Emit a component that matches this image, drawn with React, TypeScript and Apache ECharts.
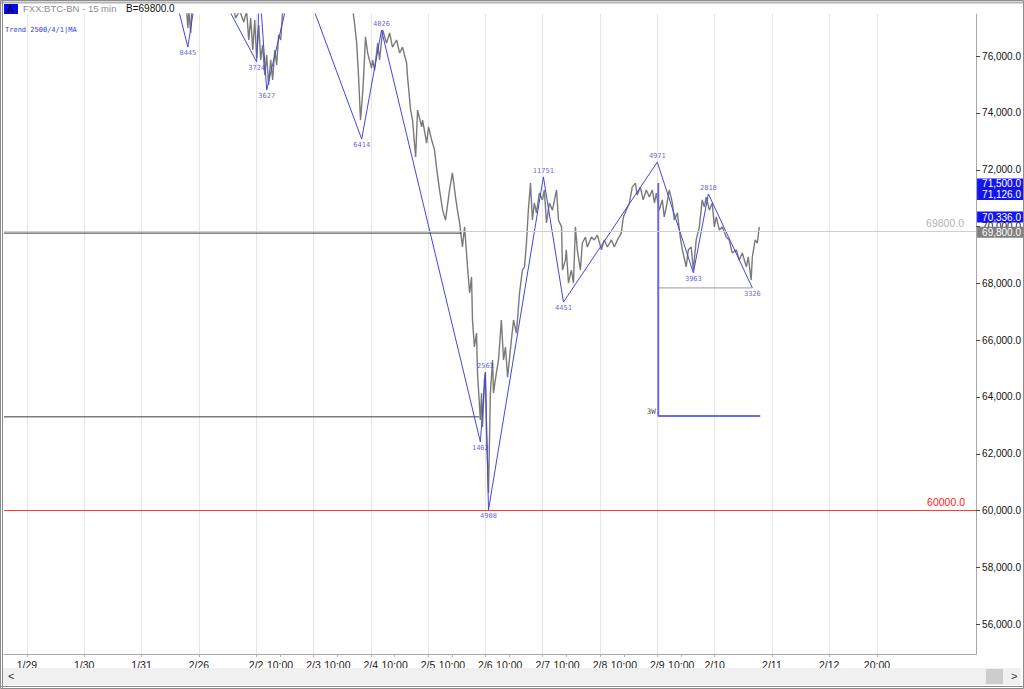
import React, { useEffect, useRef } from 'react';
import * as echarts from 'echarts';

// ---- axes ----
const xMin = -9.6; // hours from 1/29 00:00
const xMax = 397.5;
const yMin = 54950;
const yMax = 77485;
const xLabelHours = [0, 24, 48, 72, 96, 106, 120, 130, 144, 154, 168, 178, 192, 202, 216, 226, 240, 250, 264, 274, 288, 312, 336, 356];
const xLabelTexts = ['1/29', '1/30', '1/31', '2/26', '2/2', '10:00', '2/3', '10:00', '2/4', '10:00', '2/5', '10:00', '2/6', '10:00', '2/7', '10:00', '2/8', '10:00', '2/9', '10:00', '2/10', '2/11', '2/12', '20:00'];
const xGridHours = [0, 24, 48, 72, 96, 120, 144, 168, 192, 216, 240, 264, 288, 312, 336, 356];
const yTickValues = [56000, 58000, 60000, 62000, 64000, 66000, 68000, 70000, 72000, 74000, 76000];

// ---- 15-min price trace (highs/lows) ----
const priceHours = [
  66.5, 67.4, 67.8, 68.6, 69.0, 69.9,
  85.8, 87.4, 89.1, 90.8, 92.0, 92.9, 93.7, 94.6, 95.4, 96.2, 97.1, 97.9, 98.7, 99.6, 100.4, 101.2, 102.1, 102.9, 103.8, 104.6, 105.4, 106.3, 107.1, 107.9,
  136.4, 136.8, 137.2, 138.1, 138.9, 139.7, 140.6, 141.0, 141.8, 142.7, 144.3, 144.8, 145.6, 146.9, 147.7, 149.0, 150.6, 151.9, 153.1, 154.8, 156.1, 157.3, 159.0, 159.4,
  160.7, 161.5, 162.8, 163.6, 165.3, 165.7, 167.4, 168.2, 169.5, 170.7, 171.5, 172.8, 174.1, 175.3, 177.0, 178.2, 179.5, 180.3, 181.2, 182.4, 183.3, 184.1, 184.5,
  185.4, 186.2, 186.6, 187.4, 188.3, 188.7, 189.9, 190.4, 190.8, 191.6, 192.0, 192.5, 193.3, 194.1, 195.0, 195.4, 196.6, 197.5, 198.7, 199.6, 200.4, 201.3,
  202.9, 203.8, 205.0, 206.3, 207.5, 208.4, 209.2, 210.0, 210.9, 211.7, 212.5, 213.4, 214.6, 215.9, 216.7, 217.6, 218.8, 220.1, 221.8, 222.6, 223.9, 224.3,
  225.5, 225.9, 226.8, 228.0, 228.9, 229.7, 230.5, 231.8, 232.6, 233.9, 234.7, 236.4, 237.6, 238.9, 240.6, 241.8, 243.1, 244.8, 246.0, 247.3, 248.9, 249.8,
  251.0, 252.3, 253.5, 254.8, 255.6, 256.9, 258.1, 259.4, 260.7, 261.9, 262.8, 263.6, 264.8, 266.1, 266.9, 267.8, 269.0, 270.3, 271.1, 272.4, 273.6, 274.5,
  276.1, 277.0, 278.2, 279.1, 280.3, 281.6, 282.8, 283.7, 284.5, 285.8, 287.0, 287.9, 288.7, 290.0, 291.2, 292.9, 294.1, 295.4, 297.1, 298.3, 299.6, 301.3,
  302.1, 303.3, 303.8, 305.0, 305.9, 306.7,
];
const priceValues = [
  78000, 76990, 77600, 76820, 77600, 78000,
  78000, 77340, 77600, 77200, 77600, 76570, 77340, 76220, 77270, 75940, 77100, 75870, 76390, 75340, 76040, 74990, 75870, 75160, 76220, 75690, 76750, 76570, 77600, 78000,
  78000, 77410, 77170, 76460, 75270, 73750, 74700, 75270, 76680, 76110, 75580, 75870, 75510, 76460, 75870, 76920, 76460, 76820, 76320, 76570, 76110, 76320, 75760, 75270,
  74100, 73750, 72450, 74100, 73510, 73750, 72940, 73510, 73050, 72700, 72100, 71290, 70580, 70230, 71290, 71890, 71040, 70580, 70130, 69280, 69990, 69070, 68580,
  67660, 68220, 66710, 65760, 66250, 64850, 63190, 64140, 62940, 64600, 64850, 62730, 60620, 64140, 65300, 64140, 64850, 65300, 66710, 65300, 65760, 64700,
  66010, 66710, 66250, 67660, 68470, 68580, 69420, 70580, 71530, 70230, 70830, 70480, 71180, 70940, 71290, 70130, 70830, 70580, 71290, 70230, 69990, 68470,
  68820, 69180, 68010, 68470, 68010, 69990, 69180, 68470, 69420, 69630, 69280, 69630, 69530, 69700, 69180, 69530, 69280, 69530, 69280, 69530, 69770, 70340,
  70580, 70830, 71390, 71530, 71110, 71390, 70940, 71290, 71040, 71290, 70830, 71180, 70580, 70940, 70340, 70690, 71290, 70830, 70230, 70480, 69630, 69180,
  68580, 69180, 69280, 68470, 69530, 69990, 70940, 70690, 71040, 70580, 70830, 69990, 70340, 69880, 69990, 69630, 69530, 69070, 69180, 68820, 69070, 68580,
  68930, 68120, 68930, 69530, 69420, 69990,
];

// ---- zigzag trend (Trend 2500/4/1) ----
const zigHours = [63.0, 67.4, 73.1, 96.2, 97.5, 100.4, 112.9, 140.2, 148.5, 189.9, 192.0, 193.3, 216.3, 224.7, 264.0, 279.1, 285.4, 303.8];
const zigPrices = [77800, 76320, 79450, 75800, 78380, 74810, 79280, 73080, 76920, 62420, 64880, 60020, 71750, 67340, 72270, 68370, 71150, 67840];
const zigLabels = ['', '8445', '', '3724', '', '3627', '', '6414', '4026', '1462', '2563', '4908', '11751', '4451', '4971', '3963', '2818', '3326'];
const zigIsHigh = [false, false, true, false, true, false, true, false, true, false, true, false, true, false, true, false, true, false];

// ---- horizontal levels ----
const levelUpper = 69770; // dark line, left part
const levelUpperEnd = 182.0;
const levelLower = 63300; // dark line, left part
const levelLowerEnd = 189.5;
const lastPriceLine = 69830;
const redLevel = 60000;
const baseLevel = 67840;
const baseFrom = 264.0;
const baseTo = 303.8;
const wTime = 264.4;
const wTop = 71530;
const wBottom = 63330;
const wEnd = 307.1;

// ---- price markers on the axis ----
const markerValues = [71500, 71126, 70336, 69800];
const markerTexts = ['71,500.0', '71,126.0', '70,336.0', '69,800.0'];
const markerColors = ['#1414f0', '#1414f0', '#1414f0', '#808080'];

const SANS = '"Liberation Sans", Arial, Helvetica, sans-serif';
const MONO = '"DejaVu Sans Mono", "Liberation Mono", monospace';

function fmtPrice(v: number) {
  const th = Math.floor(v / 1000);
  const rest = String(Math.round(v % 1000)).padStart(3, '0');
  return `${th},${rest}.0`;
}

export default function App() {
  const ref = useRef<HTMLDivElement>(null);

  useEffect(() => {
    if (!ref.current) return;
    const chart = echarts.init(ref.current, undefined, { renderer: 'svg' });

    const priceData = priceHours.map((h, i) => [h, priceValues[i]]);
    const zigData = zigHours.map((h, i) => [h, zigPrices[i]]);
    const pivotLabels = zigHours
      .map((h, i) => ({
        name: zigLabels[i],
        value: [h, zigPrices[i]],
        label: { position: zigIsHigh[i] ? 'top' : 'bottom', distance: 2 },
      }))
      .filter((d) => d.name !== '');

    const labelMap: Record<string, string> = {};
    xLabelHours.forEach((h, i) => (labelMap[String(h)] = xLabelTexts[i]));

    const hLine = (name: string, pts: number[][], color: string, width = 1) => ({
      name,
      type: 'line',
      data: pts,
      showSymbol: false,
      symbol: 'none',
      silent: true,
      lineStyle: { color, width },
      z: 3,
    });

    const markLineData: any[] = [
      {
        yAxis: lastPriceLine,
        lineStyle: { color: '#cfcfcf', width: 1, type: 'solid' },
        label: {
          show: true,
          position: 'insideEndTop',
          formatter: '69800.0',
          color: '#b4b4b4',
          fontSize: 10.5,
          fontFamily: SANS,
          distance: [12, 3],
        },
      },
      {
        yAxis: redLevel,
        lineStyle: { color: '#ff3a3a', width: 1, type: 'solid' },
        label: {
          show: true,
          position: 'insideEndTop',
          formatter: '60000.0',
          color: '#ff1a1a',
          fontSize: 10.5,
          fontFamily: SANS,
          distance: [11, 3],
        },
      },
      ...markerValues.map((v, i) => ({
        yAxis: v,
        lineStyle: { color: 'rgba(255,255,255,0)', width: 1, type: 'solid', opacity: 1 },
        label: {
          show: true,
          position: 'end',
          distance: 1,
          formatter: markerTexts[i],
          color: '#ffffff',
          backgroundColor: markerColors[i],
          fontSize: 10,
          lineHeight: 11,
          fontFamily: SANS,
          padding: [0, 3, 0, 5],
          opacity: 1,
        },
      })),
    ];

    const option: any = {
      animation: false,
      backgroundColor: '#ffffff',
      grid: { left: 4, right: 47, top: 14, bottom: 35, containLabel: false },
      xAxis: [
        {
          type: 'value',
          min: xMin,
          max: xMax,
          position: 'bottom',
          axisLine: { show: true, onZero: false, lineStyle: { color: '#a8a8a8' } },
          axisTick: { show: true, customValues: xLabelHours, length: 3, lineStyle: { color: '#b0b0b0' } },
          axisLabel: {
            customValues: xLabelHours,
            formatter: (v: number) => labelMap[String(v)] ?? '',
            color: '#222',
            fontSize: 10.5,
            fontFamily: SANS,
            margin: 5,
          },
          splitLine: { show: false },
        },
        {
          type: 'value',
          min: xMin,
          max: xMax,
          position: 'bottom',
          axisLine: { show: false },
          axisTick: { show: false, customValues: xGridHours },
          axisLabel: { show: false, customValues: xGridHours },
          splitLine: { show: true, lineStyle: { color: '#e6e6e6', width: 1 } },
        },
      ],
      yAxis: {
        type: 'value',
        position: 'right',
        min: yMin,
        max: yMax,
        axisLine: { show: true, onZero: false, lineStyle: { color: '#a8a8a8' } },
        axisTick: { show: true, customValues: yTickValues, length: 4, lineStyle: { color: '#444' } },
        axisLabel: {
          customValues: yTickValues,
          formatter: (v: number) => fmtPrice(v),
          color: '#111',
          fontSize: 10,
          fontFamily: SANS,
          margin: 6,
        },
        splitLine: { show: false },
      },
      series: [
        {
          name: 'price',
          type: 'line',
          data: priceData,
          showSymbol: false,
          symbol: 'none',
          silent: true,
          clip: true,
          lineStyle: { color: '#7a7a7a', width: 1.4 },
          z: 2,
          markLine: {
            silent: true,
            symbol: ['none', 'none'],
            animation: false,
            z: 10,
            data: markLineData,
          },
        },
        hLine('upper level', [[xMin, levelUpper], [levelUpperEnd, levelUpper]], '#3a3a3a'),
        hLine('lower level', [[xMin, levelLower], [levelLowerEnd, levelLower]], '#3a3a3a'),
        hLine('base', [[baseFrom, baseLevel], [baseTo, baseLevel]], '#9a9a9a'),
        {
          name: 'zigzag',
          type: 'line',
          data: zigData,
          showSymbol: false,
          symbol: 'none',
          silent: true,
          clip: true,
          lineStyle: { color: '#4646dc', width: 1 },
          z: 4,
        },
        {
          name: '3W',
          type: 'line',
          data: [[wTime, wTop], [wTime, wBottom], [wEnd, wBottom]],
          showSymbol: false,
          symbol: 'none',
          silent: true,
          lineStyle: { color: '#6b6bf0', width: 2 },
          z: 4,
        },
        {
          name: 'pivots',
          type: 'scatter',
          data: pivotLabels,
          symbolSize: 1,
          itemStyle: { color: 'rgba(0,0,0,0)' },
          silent: true,
          z: 5,
          label: {
            show: true,
            formatter: '{b}',
            color: '#3a3ad8',
            fontSize: 7,
            fontFamily: MONO,
          },
        },
        {
          name: '3W label',
          type: 'scatter',
          data: [{ name: '3W', value: [wTime, wBottom] }],
          symbolSize: 1,
          itemStyle: { color: 'rgba(0,0,0,0)' },
          silent: true,
          z: 5,
          label: {
            show: true,
            formatter: '{b}',
            position: 'left',
            distance: 2,
            offset: [0, -5],
            color: '#222',
            fontSize: 7.5,
            fontFamily: MONO,
          },
        },
      ],
      graphic: [
        // top strip
        { type: 'line', shape: { x1: 0, y1: 2.5, x2: 1024, y2: 2.5 }, style: { stroke: '#b4b4b4', lineWidth: 2 }, z: 50, silent: true },
        // header
        { type: 'rect', shape: { x: 4, y: 4, width: 14, height: 10 }, style: { fill: '#0a0ae6' }, z: 50, silent: true },
        { type: 'text', x: 7, y: 4, style: { text: 'A', fill: '#00004a', font: `10px ${SANS}` }, z: 51, silent: true },
        { type: 'text', x: 23, y: 3, style: { text: 'FXX:BTC-BN - 15 min', fill: '#8c8c8c', font: `9.5px ${SANS}` }, z: 50, silent: true },
        { type: 'text', x: 126, y: 3, style: { text: 'B=69800.0', fill: '#111', font: `10px ${SANS}` }, z: 50, silent: true },
        { type: 'text', x: 5, y: 26, style: { text: 'Trend 2500/4/1|MA', fill: '#3a3ad8', font: `7px ${MONO}` }, z: 50, silent: true },
        // scrollbar
        { type: 'rect', shape: { x: 3, y: 668, width: 1018, height: 17 }, style: { fill: '#f0f0f0' }, z: 50, silent: true },
        { type: 'rect', shape: { x: 986, y: 669, width: 17, height: 15 }, style: { fill: '#cdcdcd' }, z: 51, silent: true },
        { type: 'text', x: 8, y: 670, style: { text: '<', fill: '#333', font: `11px ${SANS}` }, z: 51, silent: true },
        { type: 'text', x: 1011, y: 670, style: { text: '>', fill: '#333', font: `11px ${SANS}` }, z: 51, silent: true },
        // frame
        { type: 'rect', shape: { x: 0.5, y: 0.5, width: 1023, height: 688 }, style: { fill: 'none', stroke: '#8c8c8c', lineWidth: 1 }, z: 60, silent: true },
        { type: 'line', shape: { x1: 2.5, y1: 0, x2: 2.5, y2: 689 }, style: { stroke: '#8c8c8c', lineWidth: 1 }, z: 60, silent: true },
        { type: 'line', shape: { x1: 0, y1: 686.5, x2: 1024, y2: 686.5 }, style: { stroke: '#8c8c8c', lineWidth: 1 }, z: 60, silent: true },
      ],
    };

    chart.setOption(option);
    return () => chart.dispose();
  }, []);

  return (
    <div
      ref={ref}
      style={{ position: 'fixed', left: 0, top: 0, width: 1024, height: 689, background: '#fff' }}
    />
  );
}
